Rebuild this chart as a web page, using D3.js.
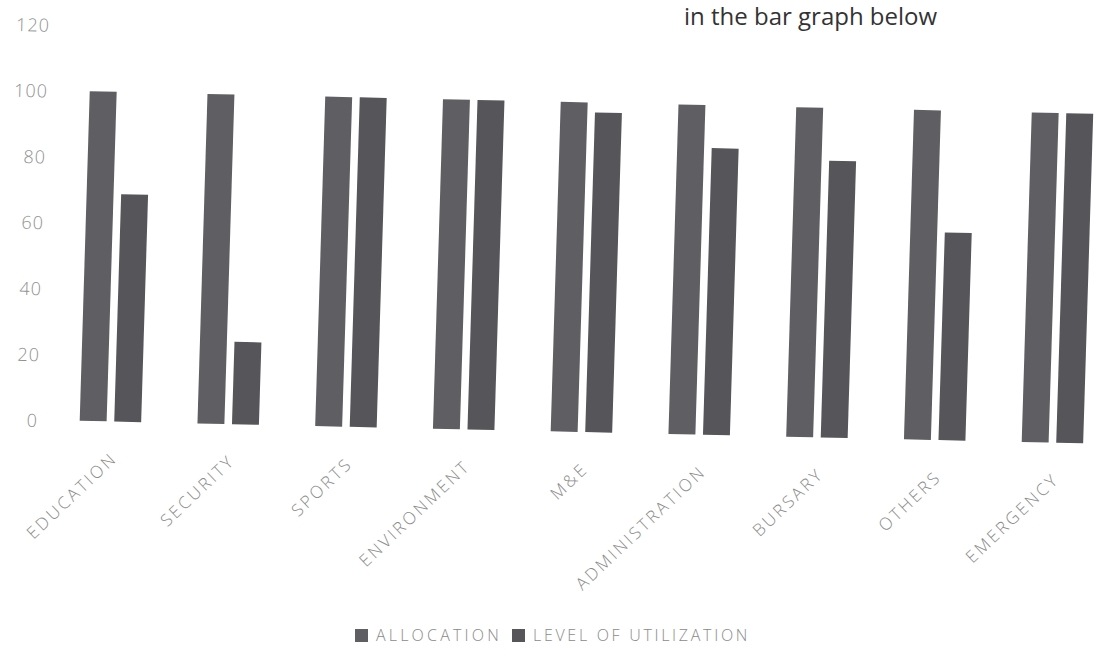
<!DOCTYPE html>
<html>
<head>
<meta charset="utf-8">
<script src="https://cdn.jsdelivr.net/npm/d3@7"></script>
<style>
  html, body { margin: 0; padding: 0; background: #ffffff; }
  svg { display: block; }
</style>
</head>
<body>
<svg id="chart" width="1100" height="661"></svg>
<script>
// ---- data ----
const categories = ["EDUCATION", "SECURITY", "SPORTS", "ENVIRONMENT", "M&E",
                    "ADMINISTRATION", "BURSARY", "OTHERS", "EMERGENCY"];
const allocation = [100, 100, 100, 100, 100, 100, 100, 100, 100];
const utilization = [69, 25, 100, 100, 97, 87, 84, 63, 100];
const seriesNames = ["ALLOCATION", "LEVEL OF UTILIZATION"];
const yTicks = [0, 20, 40, 60, 80, 100, 120];
const titleText = "in the bar graph below";

// ---- layout ----
const svg = d3.select("#chart");
const colors = ["#5f5f63", "#56565a"];
const fontFam = "'Open Sans', 'DejaVu Sans', sans-serif";

// the scanned chart is slightly skewed: reproduce with a small affine transform
const g = svg.append("g")
  .attr("transform", "matrix(1,0.0225,-0.0305,1," + (0.0305 * 424) + "," + (-0.0225 * 300) + ")");

const x0 = d3.scaleBand()
  .domain(categories)
  .range([51.6, 51.6 + 9 * 117.75])
  .paddingInner(0.478)
  .paddingOuter(0.239);

const x1 = d3.scaleBand()
  .domain(seriesNames)
  .range([0, x0.bandwidth()])
  .paddingInner(0.22);

const y = d3.scaleLinear().domain([0, 120]).range([425.7, 30.3]);

const rows = categories.map((c, i) => ({ cat: c, vals: [allocation[i], utilization[i]] }));

// bars
const groups = g.selectAll("g.cat").data(rows).enter().append("g")
  .attr("class", "cat")
  .attr("transform", d => "translate(" + x0(d.cat) + ",0)");

groups.selectAll("rect").data(d => d.vals.map((v, k) => ({ v, k })))
  .enter().append("rect")
  .attr("x", d => x1(seriesNames[d.k]))
  .attr("width", x1.bandwidth())
  .attr("y", d => y(d.v))
  .attr("height", d => y(0) - y(d.v))
  .attr("fill", d => colors[d.k]);

// y axis (labels only, no line, no gridlines)
const yAxis = d3.axisLeft(y).tickValues(yTicks).tickSize(0).tickPadding(0);
const yg = g.append("g").attr("transform", "translate(38,1)").call(yAxis);
yg.select(".domain").remove();
yg.selectAll("text")
  .attr("font-family", fontFam)
  .attr("font-weight", 300)
  .attr("font-size", 18)
  .attr("letter-spacing", "1px")
  .attr("fill", "#909090");

// x axis labels (rotated)
const xAxis = d3.axisBottom(x0).tickSize(0).tickPadding(0);
const xg = g.append("g").attr("transform", "translate(0," + y(0) + ")").call(xAxis);
xg.select(".domain").remove();
xg.selectAll("text")
  .attr("font-family", fontFam)
  .attr("font-weight", 300)
  .attr("font-size", 17)
  .attr("letter-spacing", "2.6px")
  .attr("fill", "#8a8a8a")
  .attr("text-anchor", "end")
  .attr("dy", 0)
  .attr("y", 0)
  .attr("transform", "translate(9,38) rotate(-45)");

// legend
const legend = svg.append("g").attr("class", "legend");
const legX = [355, 512];
seriesNames.forEach((s, k) => {
  legend.append("rect")
    .attr("x", legX[k]).attr("y", 629)
    .attr("width", 13).attr("height", 13)
    .attr("fill", colors[k]);
  legend.append("text")
    .attr("x", legX[k] + 21).attr("y", 641)
    .attr("font-family", fontFam)
    .attr("font-weight", 300)
    .attr("font-size", 16)
    .attr("letter-spacing", k === 0 ? "3.2px" : "2.7px")
    .attr("fill", "#8a8a8a")
    .text(s);
});

// caption at the very top of the scan (kept fully inside the picture)
svg.append("text")
  .attr("x", 684).attr("y", 25)
  .attr("font-family", fontFam)
  .attr("font-size", 24)
  .attr("fill", "#333333")
  .text(titleText);
</script>
</body>
</html>
